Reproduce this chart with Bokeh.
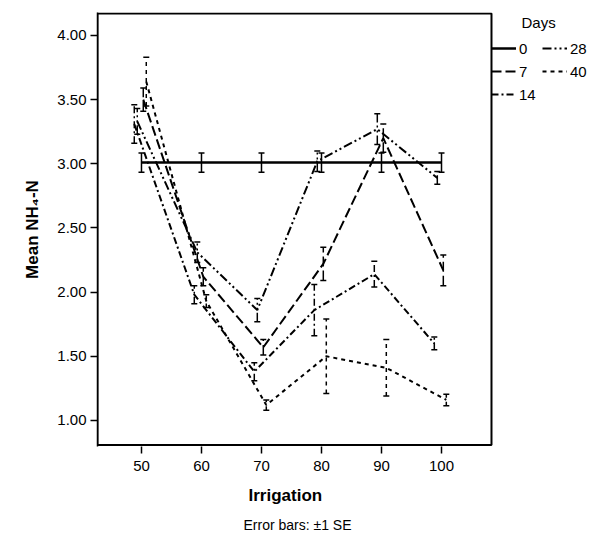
from bokeh.plotting import figure
from bokeh.models import (ColumnDataSource, Whisker, TeeHead, Legend, LegendItem,
                          Label, Title, FixedTicker, NumeralTickFormatter, Range1d)
from bokeh.transform import dodge
from bokeh.embed import file_html
from bokeh.resources import INLINE

# ---------------- data ----------------
irrigation = [50, 60, 70, 80, 90, 100]
y_ticks = [1.0, 1.5, 2.0, 2.5, 3.0, 3.5, 4.0]
day_labels = ["0", "7", "14", "28", "40"]

mean_d0 = [3.01, 3.01, 3.01, 3.01, 3.01, 3.01]
se_d0 = [0.075, 0.075, 0.075, 0.075, 0.075, 0.075]

mean_d7 = [3.50, 2.12, 1.57, 2.22, 3.20, 2.17]
se_d7 = [0.09, 0.07, 0.06, 0.13, 0.11, 0.12]

mean_d14 = [3.31, 1.98, 1.38, 1.86, 2.14, 1.60]
se_d14 = [0.15, 0.07, 0.07, 0.20, 0.10, 0.05]

mean_d28 = [3.33, 2.31, 1.86, 3.02, 3.27, 2.89]
se_d28 = [0.10, 0.08, 0.09, 0.08, 0.12, 0.05]

mean_d40 = [3.64, 1.93, 1.12, 1.50, 1.41, 1.16]
se_d40 = [0.19, 0.05, 0.04, 0.29, 0.22, 0.045]

means = [mean_d0, mean_d7, mean_d14, mean_d28, mean_d40]
ses = [se_d0, se_d7, se_d14, se_d28, se_d40]

# ---------------- styles ----------------
FONT = "Liberation Sans"
offsets = [0.0, 0.3, -1.2, -0.7, 0.8]
dashes = ["solid", "10 4", "7 3 2 3", "9 3 2 3 2 3", "4 4"]
widths = [2.5, 2, 2, 2, 2]

X_START = 42.67
# plot box (the visible chart frame) in data units
BOX_X_END = 108.33
BOX_Y = (0.808, 4.171)

# the drawing area extends under the legend so that it is not clipped
p = figure(width=590, height=542,
           x_range=Range1d(X_START, 124.83), y_range=Range1d(0.797, 4.179),
           output_backend="svg", toolbar_location=None,
           min_border_left=97, min_border_right=0,
           min_border_top=12, min_border_bottom=96)

p.xgrid.visible = False
p.ygrid.visible = False
p.outline_line_color = None
p.background_fill_color = "white"

# chart box
p.quad(left=[X_START], right=[BOX_X_END], bottom=[BOX_Y[0]], top=[BOX_Y[1]],
       fill_color=None, line_color="black", line_width=2)

renderers = []
for m, s, off, dash, w in zip(means, ses, offsets, dashes, widths):
    src = ColumnDataSource(dict(
        x=irrigation, y=m,
        upper=[a + b for a, b in zip(m, s)],
        lower=[a - b for a, b in zip(m, s)],
    ))
    r = p.line(x=dodge("x", off), y="y", source=src, line_color="black",
               line_width=w, line_dash=dash)
    renderers.append(r)
    wk = Whisker(source=src, base=dodge("x", off), upper="upper", lower="lower",
                 line_color="black", line_width=1.5, line_dash=dash,
                 upper_head=TeeHead(size=6, line_width=1.5, line_color="black"),
                 lower_head=TeeHead(size=6, line_width=1.5, line_color="black"))
    p.add_layout(wk)

# axes
for ax in (p.xaxis[0], p.yaxis[0]):
    ax.axis_line_color = "black"
    ax.axis_line_width = 1.5
    ax.major_tick_line_color = "black"
    ax.major_tick_line_width = 1.5
    ax.major_tick_in = 0
    ax.major_tick_out = 7
    ax.minor_tick_line_color = None
    ax.major_label_text_font = FONT
    ax.major_label_text_font_size = "15px"
    ax.major_label_text_color = "black"
    ax.axis_label_text_font = FONT
    ax.axis_label_text_font_size = "17px"
    ax.axis_label_text_font_style = "bold"
    ax.axis_label_text_color = "black"

p.xaxis.axis_line_color = None
p.xaxis.ticker = FixedTicker(ticks=irrigation)
p.yaxis.ticker = FixedTicker(ticks=y_ticks)
p.yaxis.formatter = NumeralTickFormatter(format="0.00")
p.yaxis.axis_label = "Mean NH\u2084-N"
p.xaxis.major_label_standoff = 7
p.yaxis.major_label_standoff = 4
p.yaxis.axis_label_standoff = 12

# x-axis title and footnote (placed under the plot box, not the whole drawing area)
p.add_layout(Title(text="Irrigation", align="left", offset=151,
                   text_font=FONT, text_font_size="17px",
                   text_font_style="bold", text_color="black",
                   standoff=20), "below")
p.add_layout(Title(text="Error bars: \u00b11 SE", align="left", offset=146,
                   text_font=FONT, text_font_size="14px",
                   text_font_style="normal", text_color="black",
                   standoff=0), "below")

# legend just right of the plot box
items = [LegendItem(label=lab, renderers=[r]) for lab, r in zip(day_labels, renderers)]
legend = Legend(items=items, nrows=3, orientation="vertical",
                location=(394, 342), margin=0, padding=0, spacing=3,
                label_standoff=3, glyph_width=25, glyph_height=20, label_height=20,
                label_text_font=FONT, label_text_font_size="15px",
                label_text_color="black",
                border_line_color=None, background_fill_alpha=0)
p.add_layout(legend)

p.add_layout(Label(x=424, y=424, x_units="screen", y_units="screen",
                   text="Days", text_font=FONT, text_font_size="15px",
                   text_baseline="middle", text_color="black"))

open("out.html", "w").write(file_html(p, INLINE))
